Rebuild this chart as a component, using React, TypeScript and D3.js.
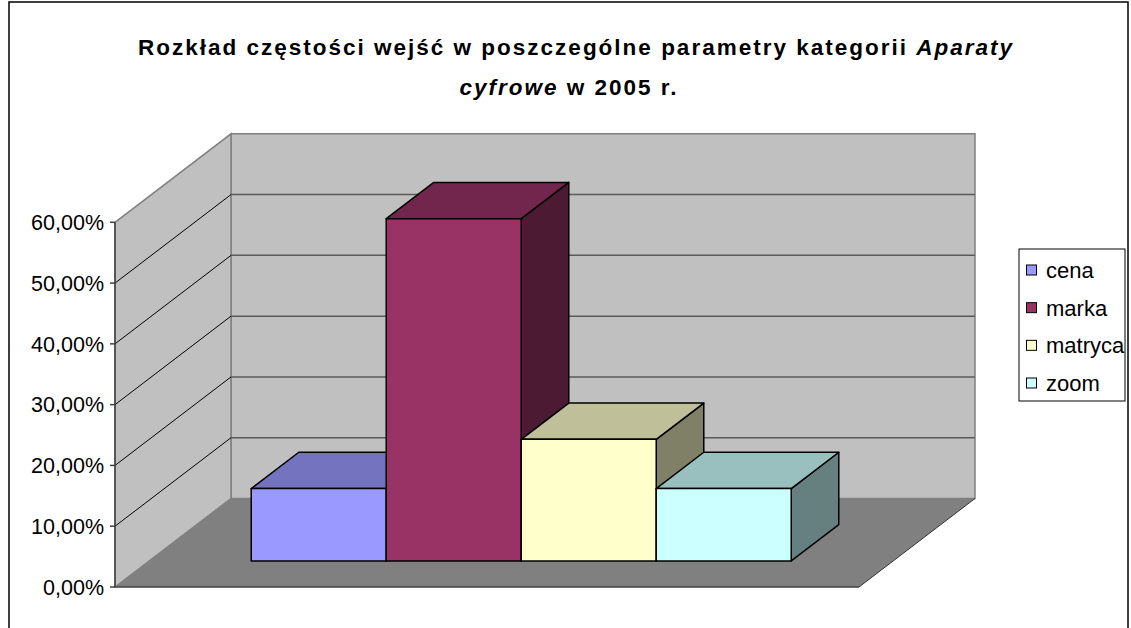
import React, { useEffect, useRef } from 'react'
import * as d3 from 'd3'

// dane
const series = ['cena', 'marka', 'matryca', 'zoom']
const shares = [0.119, 0.563, 0.2, 0.119]
const tickValues = [0, 0.1, 0.2, 0.3, 0.4, 0.5, 0.6]
const seriesColors = ['#9999FF', '#993366', '#FFFFCC', '#CCFFFF']
const titleLine1 = ['Rozkład częstości wejść w poszczególne parametry kategorii ', 'Aparaty']
const titleLine2 = ['cyfrowe', ' w 2005 r.']

const W = 1131
const H = 628
const FONT = '"Liberation Sans", Arial, sans-serif'

export default function App() {
	const svgRef = useRef<SVGSVGElement>(null)

	useEffect(() => {
		document.body.style.margin = '0'
		const svg = d3.select(svgRef.current)
		svg.selectAll('*').remove()

		// front plane
		const x0 = 115
		const x1 = 859
		const yScale = d3.scaleLinear().domain([0, 0.6]).range([587, 222.3])
		const depthX = 116
		const depthY = -88.5
		const proj = (x: number, v: number, d: number): [number, number] => [x + d * depthX, yScale(v) + d * depthY]
		const pts = (arr: [number, number][]) => arr.map(p => p.join(',')).join(' ')

		const locale = d3.formatLocale({ decimal: ',', thousands: ' ', grouping: [3], currency: ['', ' zł'] })
		const fmt = locale.format('.2%')

		svg.append('rect').attr('width', W).attr('height', H).attr('fill', '#fff')
		svg.append('rect')
			.attr('x', 9).attr('y', 2).attr('width', 1119).attr('height', 640)
			.attr('fill', 'none').attr('stroke', '#000').attr('stroke-width', 1.5)

		// title
		const title = svg.append('g')
			.attr('font-family', FONT).attr('font-weight', 'bold').attr('font-size', 22.5)
			.attr('letter-spacing', 2).attr('text-anchor', 'middle').attr('fill', '#000')
		const t1 = title.append('text').attr('x', 576).attr('y', 55)
		t1.append('tspan').text(titleLine1[0])
		t1.append('tspan').attr('font-style', 'italic').text(titleLine1[1])
		const t2 = title.append('text').attr('x', 569).attr('y', 95)
		t2.append('tspan').attr('font-style', 'italic').text(titleLine2[0])
		t2.append('tspan').text(titleLine2[1])

		const vMax = 0.6
		// walls
		svg.append('polygon')
			.attr('points', pts([proj(x0, vMax, 1), proj(x1, vMax, 1), proj(x1, 0, 1), proj(x0, 0, 1)]))
			.attr('fill', '#C0C0C0').attr('stroke', '#808080').attr('stroke-width', 1.5)
		svg.append('polygon')
			.attr('points', pts([proj(x0, vMax, 0), proj(x0, vMax, 1), proj(x0, 0, 1), proj(x0, 0, 0)]))
			.attr('fill', '#C0C0C0').attr('stroke', '#808080').attr('stroke-width', 1.5)
		svg.append('polygon')
			.attr('points', pts([proj(x0, 0, 0), proj(x0, 0, 1), proj(x1, 0, 1), proj(x1, 0, 0)]))
			.attr('fill', '#808080').attr('stroke', 'none')
		svg.append('line')
			.attr('x1', proj(x0, 0, 0)[0]).attr('y1', proj(x0, 0, 0)[1])
			.attr('x2', proj(x1, 0, 0)[0]).attr('y2', proj(x1, 0, 0)[1])
			.attr('stroke', '#404040').attr('stroke-width', 1.5)
		svg.append('line')
			.attr('x1', proj(x1, 0, 0)[0]).attr('y1', proj(x1, 0, 0)[1])
			.attr('x2', proj(x1, 0, 1)[0]).attr('y2', proj(x1, 0, 1)[1])
			.attr('stroke', '#333').attr('stroke-width', 1)

		// gridlines
		const grid = tickValues.filter(v => v > 0 && v < vMax)
		svg.selectAll('.gridBack').data(grid).enter().append('line')
			.attr('x1', v => proj(x0, v, 1)[0]).attr('y1', v => proj(x0, v, 1)[1])
			.attr('x2', v => proj(x1, v, 1)[0]).attr('y2', v => proj(x1, v, 1)[1])
			.attr('stroke', '#5a5a5a').attr('stroke-width', 1.5)
		svg.selectAll('.gridSide').data(grid).enter().append('line')
			.attr('x1', v => proj(x0, v, 0)[0]).attr('y1', v => proj(x0, v, 0)[1])
			.attr('x2', v => proj(x0, v, 1)[0]).attr('y2', v => proj(x0, v, 1)[1])
			.attr('stroke', '#000').attr('stroke-width', 1)

		// axis
		svg.append('line')
			.attr('x1', x0).attr('x2', x0).attr('y1', yScale(0)).attr('y2', yScale(vMax))
			.attr('stroke', '#404040').attr('stroke-width', 1.5)
		const ticks = svg.append('g').attr('font-family', FONT).attr('font-size', 21.5)
		tickValues.forEach(v => {
			ticks.append('line')
				.attr('x1', x0 - 5).attr('x2', x0).attr('y1', yScale(v)).attr('y2', yScale(v))
				.attr('stroke', '#404040').attr('stroke-width', 1.5)
			ticks.append('text')
				.attr('x', x0 - 11).attr('y', yScale(v)).attr('dy', '0.36em')
				.attr('text-anchor', 'end').attr('fill', '#000')
				.text(fmt(v))
		})

		// bars
		const band = d3.scaleBand<string>().domain(series).range([x0 + 102, x1 - 102]).padding(0)
		const d0 = 0.295
		const d1 = 0.705
		series.forEach((s, i) => {
			const v = shares[i]
			const front = d3.rgb(seriesColors[i])
			const shade = (k: number) => d3.rgb(front.r * k, front.g * k, front.b * k).formatHex()
			const xa = band(s)!
			const xb = xa + band.bandwidth()
			const g = svg.append('g').attr('stroke', '#000').attr('stroke-width', 1.5).attr('stroke-linejoin', 'round')
			g.append('polygon')
				.attr('points', pts([proj(xb, 0, d0), proj(xb, v, d0), proj(xb, v, d1), proj(xb, 0, d1)]))
				.attr('fill', shade(0.5))
			g.append('polygon')
				.attr('points', pts([proj(xa, v, d0), proj(xb, v, d0), proj(xb, v, d1), proj(xa, v, d1)]))
				.attr('fill', shade(0.75))
			g.append('polygon')
				.attr('points', pts([proj(xa, 0, d0), proj(xb, 0, d0), proj(xb, v, d0), proj(xa, v, d0)]))
				.attr('fill', front.formatHex())
		})

		// legend
		const legend = svg.append('g').attr('font-family', FONT).attr('font-size', 22)
		legend.append('rect')
			.attr('x', 1019).attr('y', 249).attr('width', 106).attr('height', 152)
			.attr('fill', '#fff').attr('stroke', '#000').attr('stroke-width', 1)
		const rowY = d3.scalePoint<string>().domain(series).range([270, 383])
		series.forEach((s, i) => {
			const y = rowY(s)!
			legend.append('rect')
				.attr('x', 1026.5).attr('y', y - 5).attr('width', 10).attr('height', 10)
				.attr('fill', seriesColors[i]).attr('stroke', '#000').attr('stroke-width', 1)
			legend.append('text')
				.attr('x', 1046).attr('y', y).attr('dy', '0.36em').attr('fill', '#000')
				.text(s)
		})
	}, [])

	return <svg ref={svgRef} width={W} height={H} style={{ display: 'block' }} />
}
